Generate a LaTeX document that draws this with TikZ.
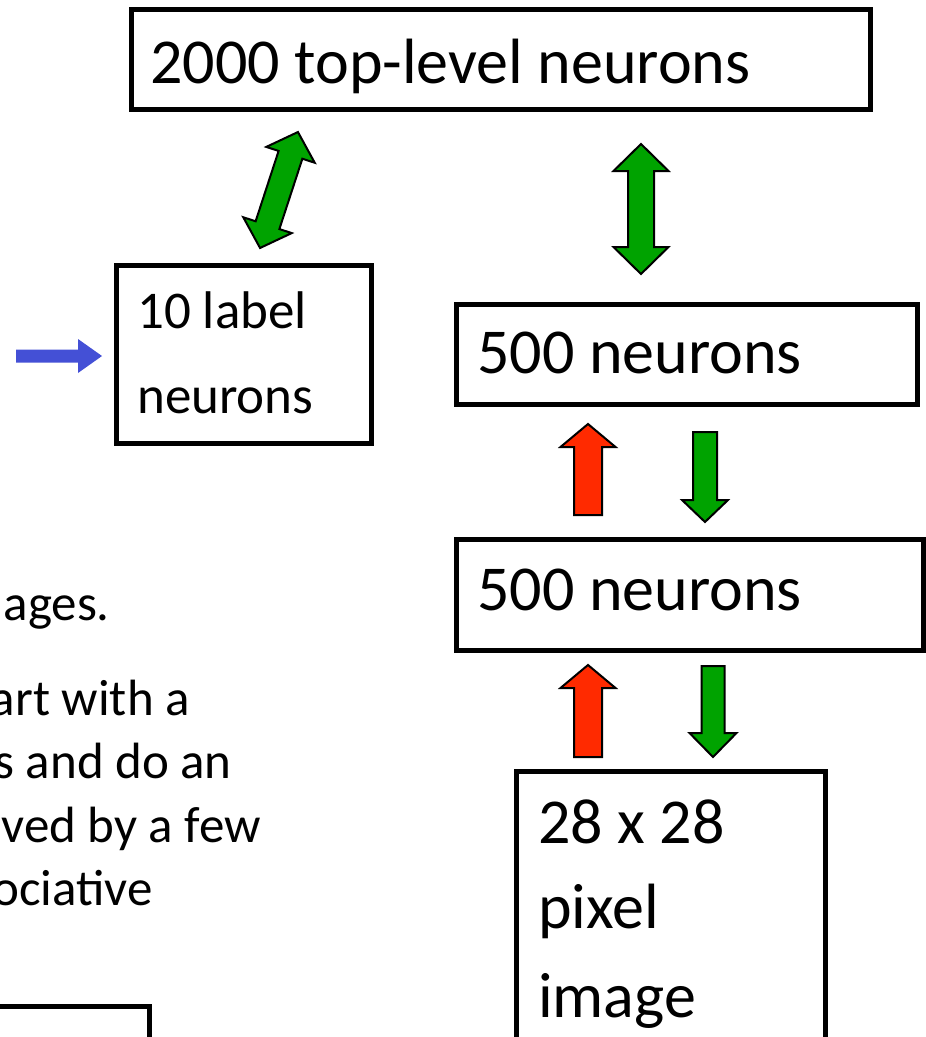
\documentclass[tikz,border=0pt]{standalone}
\usepackage{fontspec}
\setmainfont{Carlito}
\usetikzlibrary{calc}

\definecolor{arrowgreen}{RGB}{0,163,0}
\definecolor{arrowred}{RGB}{255,42,0}
\definecolor{arrowblue}{RGB}{68,80,214}

% block arrow with two heads: centre x, centre y, angle, length, shaft width, head width, head length, fill
\newcommand{\dblockarrow}[8]{%
  \begin{scope}[shift={(#1,#2)}, rotate=#3]
    \draw[blockline, fill=#8]
      ({#4/2},0) -- ({#4/2-#7},{#6/2}) -- ({#4/2-#7},{#5/2}) -- ({-#4/2+#7},{#5/2})
      -- ({-#4/2+#7},{#6/2}) -- ({-#4/2},0) -- ({-#4/2+#7},{-#6/2}) -- ({-#4/2+#7},{-#5/2})
      -- ({#4/2-#7},{-#5/2}) -- ({#4/2-#7},{-#6/2}) -- cycle;
  \end{scope}}
% block arrow with one head: tip x, tip y, angle, length, shaft width, head width, head length, style
\newcommand{\sblockarrow}[8]{%
  \begin{scope}[shift={(#1,#2)}, rotate=#3]
    \path[#8]
      (0,0) -- ({-#7},{#6/2}) -- ({-#7},{#5/2}) -- ({-#4},{#5/2})
      -- ({-#4},{-#5/2}) -- ({-#7},{-#5/2}) -- ({-#7},{-#6/2}) -- cycle;
  \end{scope}}

\tikzset{
  box/.style={draw=black, line width=5pt, rectangle, inner sep=0pt, fill=none},
  blockline/.style={draw=black, line width=2pt, line join=miter},
  big/.style={anchor=base west, inner sep=0pt, font=\fontsize{64}{77}\selectfont},
  mid/.style={anchor=base west, inner sep=0pt, font=\fontsize{53}{64}\selectfont},
  side/.style={anchor=base east, inner sep=0pt, font=\fontsize{51}{62}\selectfont},
}

\begin{document}
\begin{tikzpicture}[x=1pt, y=-1pt]
  \useasboundingbox (0,0) rectangle (926,1037);
  \clip (0,0) rectangle (926,1037);
  \fill[white] (0,0) rectangle (926,1037);

  % layer boxes
  \node[box, minimum width=739pt, minimum height=100pt] (top) at (500.5,59) {};
  \node[big] (toptext) at (150,83) {2000 top-level neurons};

  \node[box, minimum width=255pt, minimum height=178pt] (label) at (243.5,354) {};
  \node[mid] (labeltexta) at (137,328) {10 label};
  \node[mid] (labeltextb) at (137,413) {neurons};

  \node[box, minimum width=461pt, minimum height=100pt] (hidA) at (686.5,354) {};
  \node[big] (hidAtext) at (477,373) {500 neurons};

  \node[box, minimum width=467pt, minimum height=111pt] (hidB) at (689.5,594.5) {};
  \node[big] (hidBtext) at (477,610) {500 neurons};

  \node[box, minimum width=309pt, minimum height=340pt] (pix) at (670.5,941) {};
  \node[big] (pixtexta) at (538,843) {28 x 28};
  \node[big] (pixtextb) at (538,928) {pixel};
  \node[big] (pixtextc) at (538,1017) {image};

  \node[box, minimum width=260pt, minimum height=200pt] (lowbox) at (19,1106) {};

  % bullet text running in from the left
  \node[side] (s1) at (110,620) {ages.};
  \node[side] (s2) at (190,715) {art with a};
  \node[side] (s3) at (232,778) {s and do an};
  \node[side] (s4) at (261,842) {ved by a few};
  \node[side] (s5) at (153,905) {ociative};

  % connections between layers
  \dblockarrow{279}{190}{71.9}{122}{25}{51}{24}{arrowgreen}
  \dblockarrow{641}{209}{90}{130}{26}{55}{27}{arrowgreen}

  \sblockarrow{588}{424}{90}{91}{28}{55}{23}{blockline, fill=arrowred}
  \sblockarrow{705}{522}{-90}{90}{24}{46}{22}{blockline, fill=arrowgreen}
  \sblockarrow{588}{665}{90}{92}{28}{55}{23}{blockline, fill=arrowred}
  \sblockarrow{713}{757}{-90}{91}{23}{47}{24}{blockline, fill=arrowgreen}

  \sblockarrow{102}{356}{0}{86}{13}{34}{24}{fill=arrowblue}
\end{tikzpicture}
\end{document}
